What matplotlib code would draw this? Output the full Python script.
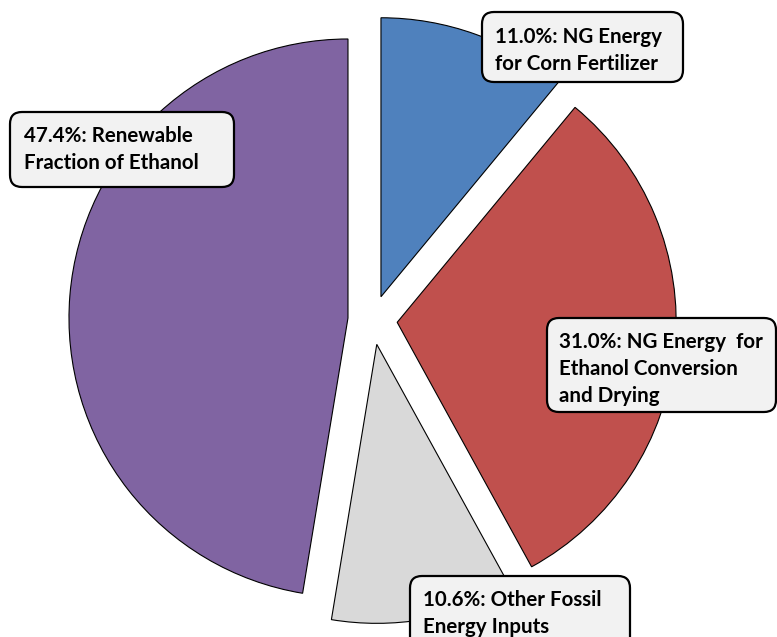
import matplotlib
matplotlib.use("Agg")
import matplotlib.pyplot as plt
from matplotlib.patches import FancyBboxPatch

categories = ["NG Energy\nfor Corn Fertilizer",
              "NG Energy  for\nEthanol Conversion\nand Drying",
              "Other Fossil\nEnergy Inputs",
              "Renewable\nFraction of Ethanol"]
values = [11.0, 31.0, 10.6, 47.4]
colors = ["#4F81BD", "#C0504D", "#D9D9D9", "#8064A2"]

W, H = 777, 637
fig = plt.figure(figsize=(W / 100, H / 100), dpi=100)
ax = fig.add_axes([0, 0, 1, 1])
ax.set_xlim(0, W)
ax.set_ylim(0, H)
ax.set_aspect("equal")
ax.axis("off")

R = 279
gap = 24.7  # explode offset in pixels (matplotlib uses absolute units)
wedges, _ = ax.pie(values, colors=colors, startangle=90, counterclock=False,
                   explode=[gap] * 4, radius=R, center=(372.6, H - 320),
                   wedgeprops=dict(edgecolor="black", linewidth=0.8))
ax.set_xlim(0, W)
ax.set_ylim(0, H)

# label boxes (image coords: left, top, right, bottom), text left x, first line y
boxes = [
    (482, 12, 683, 82, 495, 37),
    (547, 318, 776, 412, 559, 342),
    (410, 576, 630, 660, 423, 600),
    (10, 112, 234, 187, 24, 136),
]
line_gap = 27
for (l, t, r, b, tx, ty), v, name in zip(boxes, values, categories):
    p = FancyBboxPatch((l + 8, H - b + 8), (r - l) - 16, (b - t) - 16,
                       boxstyle="round,pad=8,rounding_size=12",
                       facecolor="#F2F2F2", edgecolor="black", linewidth=1.6,
                       zorder=5)
    ax.add_patch(p)
    lines = f"{v:.1f}%: {name}".split("\n")
    for i, ln in enumerate(lines):
        ax.text(tx, H - (ty + i * line_gap), ln, ha="left", va="center",
                fontsize=14.8, fontweight="bold", family=["Lato", "DejaVu Sans"],
                color="black", zorder=6)

fig.savefig("out.png", dpi=100)
